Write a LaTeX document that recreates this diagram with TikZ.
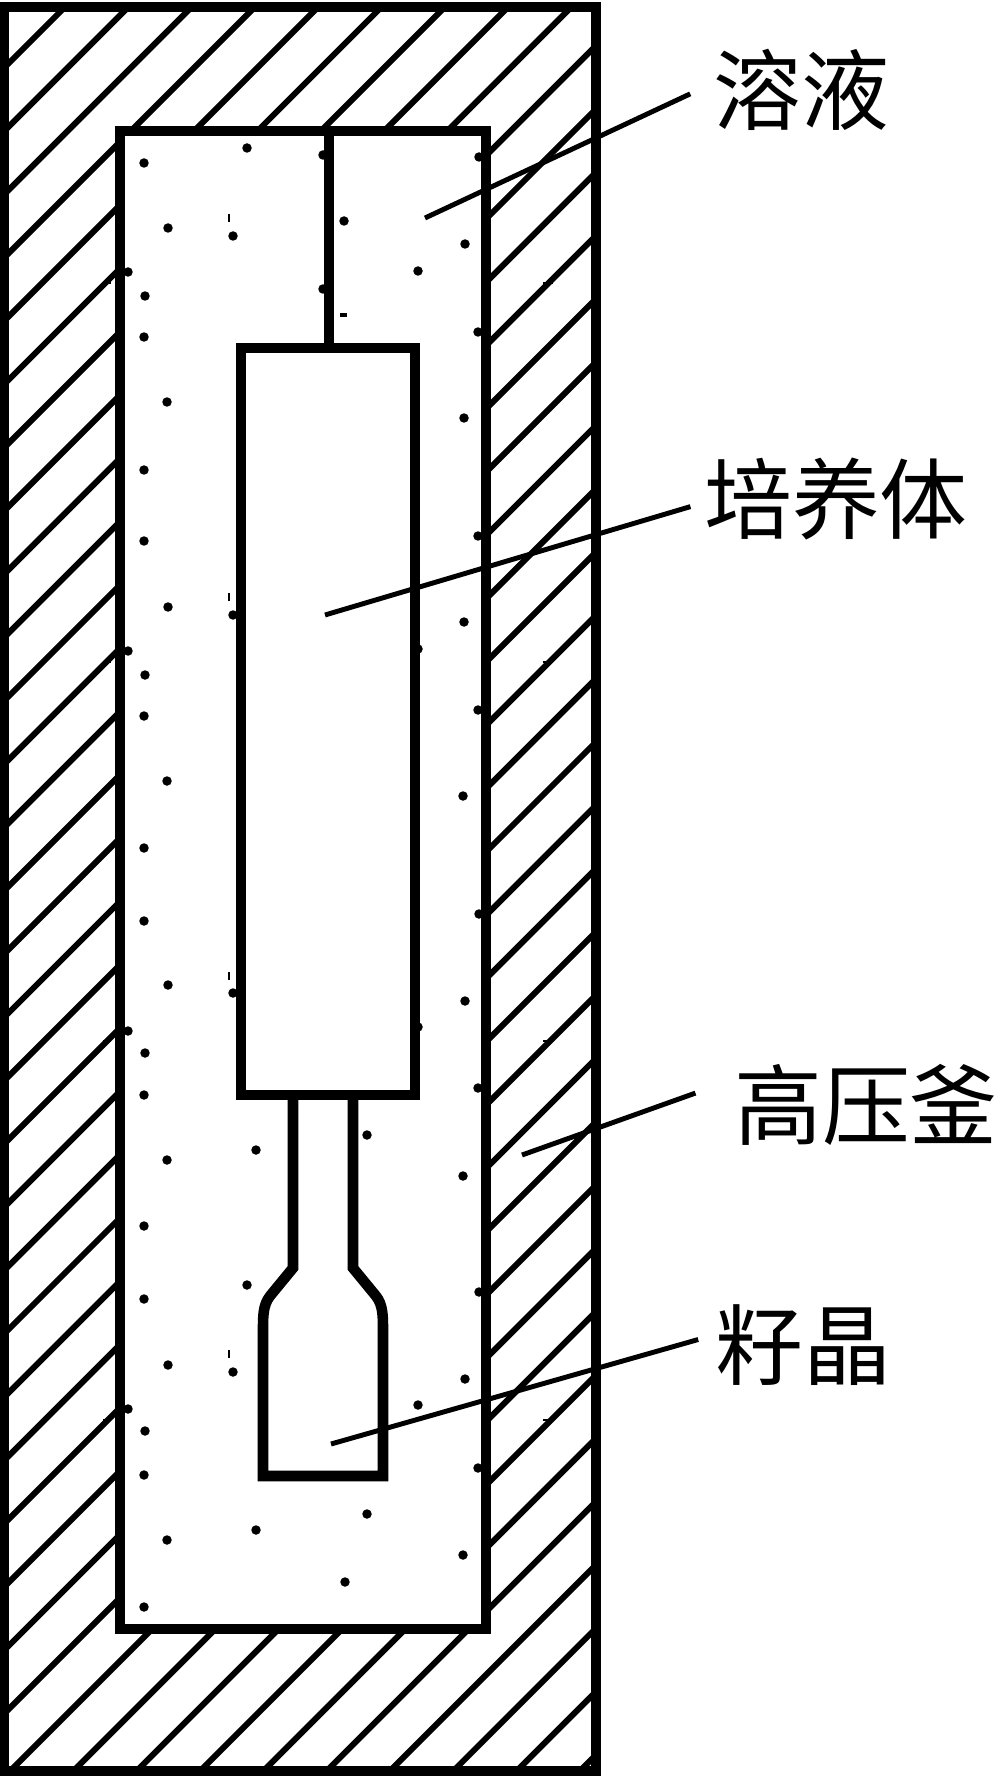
\documentclass[tikz,border=0pt]{standalone}
\usepackage{fontspec}
\newfontfamily\cjk{Noto Sans CJK SC}
\tikzset{%
  wall/.style={line width=3pt,draw=black,fill=white,miter limit=10},
  hatch/.style={line width=1.7pt},
  leader/.style={line width=1.4pt},
  point/.style={circle,inner sep=0pt,minimum size=2.7pt,fill=black},
  tag/.style={inner xsep=#1,inner ysep=4pt,font=\cjk\fontsize{25}{30}\selectfont}
}
\begin{document}
\begin{tikzpicture}[x=0.01cm,y=-0.01cm]
  \useasboundingbox (0,0) rectangle (1000,1776);
  \coordinate (p0) at (4,7);
  \coordinate (p1) at (596,7);
  \coordinate (p2) at (596,1771);
  \coordinate (p3) at (4,1771);
  %%
  \begin{scope}
    \clip (p0) rectangle (p2);
    \foreach \k in {0,...,36}{
      \pgfmathsetmacro{\yk}{63+63.3*\k}
      \draw[hatch] (0,\yk+9) -- (620,\yk-611);
    }
  \end{scope}
  \draw[wall,fill=none] (p0) -- (p1) -- (p2) -- (p3) -- cycle;
  \foreach \y in {283,662,1041,1420}{
    \draw[line width=.8pt] (103,\y) -- (111,\y);
    \draw[line width=.8pt] (543,\y) -- (553,\y);
  }
  %%
  \draw[wall] (120,131) rectangle (486,1629);
  \coordinate (r0) at (329,131);
  \coordinate (r1) at (329,348);
  \draw[wall] (r0) -- (r1);
  %%
  \draw[wall] (293,1095) -- (293,1268) -- (270,1296)
    .. controls (263,1305) and (263,1316) .. (263,1330)
    -- (263,1476) -- (383,1476) -- (383,1330)
    .. controls (383,1316) and (383,1305) .. (376,1296)
    -- (353,1268) -- (353,1095);
  \draw[wall] (241,348) rectangle (415,1095);
  %%
  \foreach \x/\y [count=\i] in {%
    144/163,247/148,168/228,233/236,128/272,145/296,144/337,323/155,
    344/221,323/289,418/271,465/244,479/157,478/332,464/418,167/402,
    144/470,144/541,168/607,233/615,128/651,145/675,144/716,167/781,
    144/848,144/921,168/985,233/993,128/1031,145/1053,144/1095,167/1160,
    144/1226,144/1299,168/1365,233/1372,128/1409,145/1431,144/1475,167/1540,
    144/1607,478/536,464/622,418/649,478/710,463/796,479/914,465/1001,
    418/1027,478/1088,463/1176,479/1292,465/1379,418/1405,478/1468,463/1555,
    256/1150,367/1135,247/1285,256/1530,367/1514,345/1582}{
    \node[point] (d\i) at (\x,\y) {};
  }
  \foreach \x/\y in {229/218,229/597,229/976,229/1354}{
    \draw[line width=.4pt] (\x,\y-4) -- (\x,\y+4);
  }
  \draw[line width=1pt] (340,315) -- (347,315);
  %%
  \node[tag=6.3pt] (ry) at (801,90) {溶液};
  \node[tag=3.7pt] (pyt) at (836,499) {培养体};
  \node[tag=10.8pt] (gyf) at (866,1105) {高压釜};
  \node[tag=4.6pt] (zj) at (803,1345) {籽晶};
  \coordinate (e0) at (425,218);
  \coordinate (e1) at (325,615);
  \coordinate (e2) at (522,1155);
  \coordinate (e3) at (331,1444);
  \draw[leader] (ry.182) -- (e0);
  \draw[leader] (pyt.183) -- (e1);
  \draw[leader] (gyf.176) -- (e2);
  \draw[leader] (zj.177) -- (e3);
\end{tikzpicture}
\end{document}
